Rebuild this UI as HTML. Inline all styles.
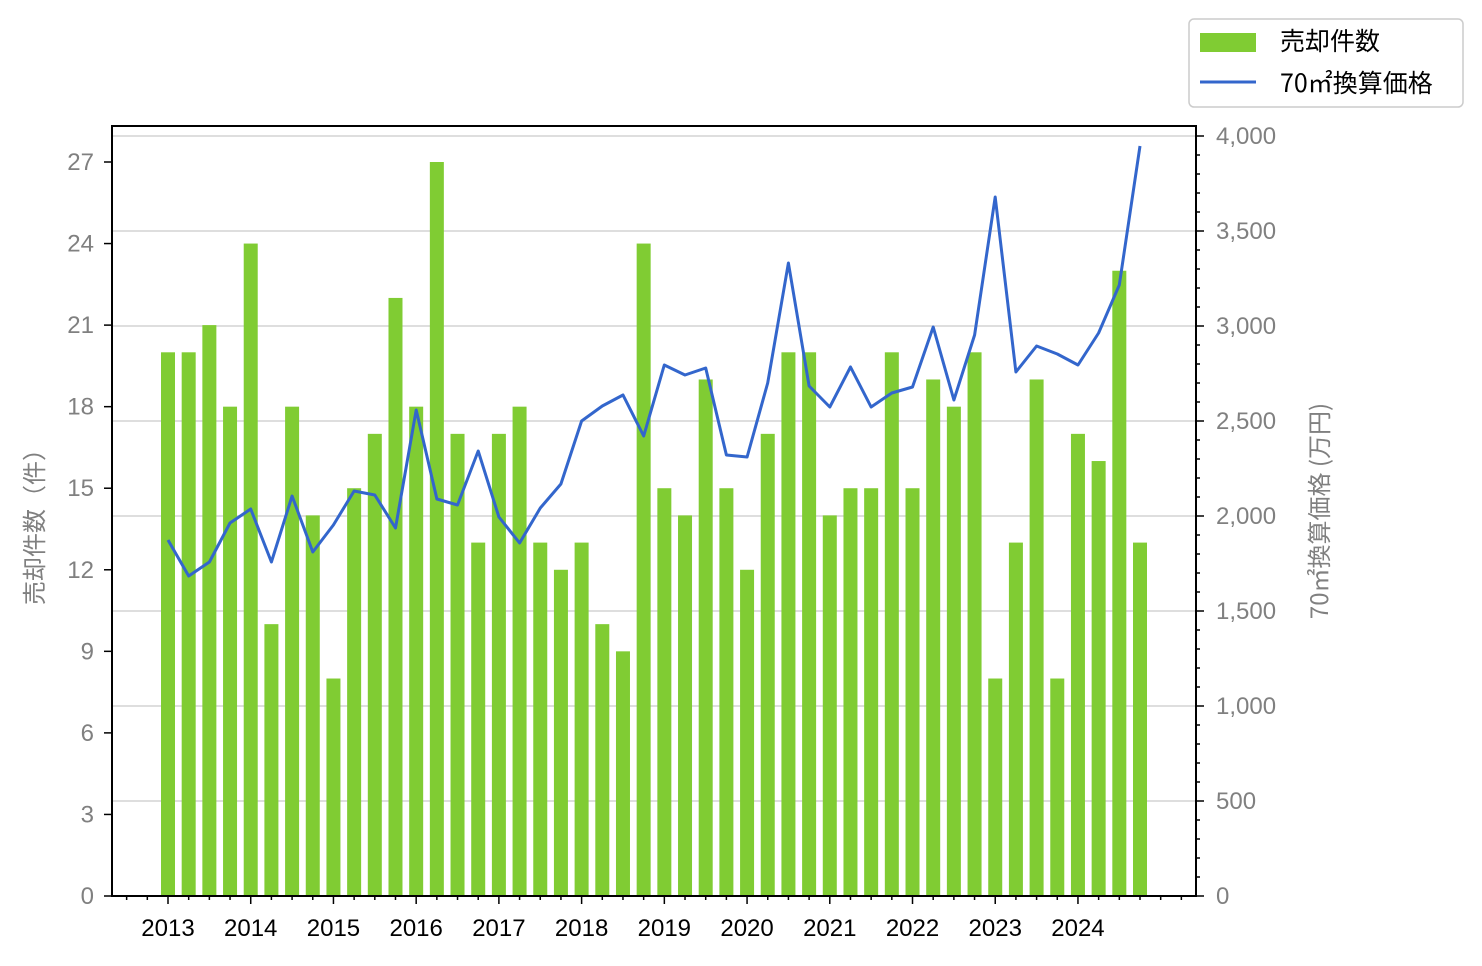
<!DOCTYPE html><html><head><meta charset="utf-8"><style>body{margin:0;background:#fff}</style></head><body>
<svg width="1482" height="961" xmlns="http://www.w3.org/2000/svg" font-family="Liberation Sans, Noto Sans CJK JP, sans-serif">
<rect width="1482" height="961" fill="#fff"/>
<g id="grid" stroke="#d3d3d3" stroke-width="1.5"></g>
<g id="bars" fill="#80cc33"></g>
<polyline id="line" fill="none" stroke="#3366cc" stroke-width="3" stroke-linejoin="round"/>
<rect x="112" y="126" width="1084" height="770" fill="none" stroke="#000" stroke-width="2"/>
<g id="ax" stroke="#000" stroke-width="1.5"></g>
<g id="lt" fill="#808080" font-size="24" text-anchor="end"></g>
<g id="rt" fill="#808080" font-size="24"></g>
<g id="xt" fill="#000" font-size="24" text-anchor="middle"></g>
<text transform="translate(43,521) rotate(-90)" font-size="24" fill="#808080" text-anchor="middle" font-family="Noto Sans CJK JP, sans-serif">売却件数（件）</text>
<text transform="translate(1328,511) rotate(-90)" font-size="24" fill="#808080" text-anchor="middle" font-family="Noto Sans CJK JP, sans-serif">70㎡換算価格 (万円)</text>
<rect x="1189" y="19" width="274" height="88" rx="5" fill="#fff" stroke="#ccc" stroke-width="1.5"/>
<rect x="1200" y="33" width="56" height="19" fill="#80cc33"/>
<text x="1280" y="50" font-size="25" font-family="Noto Sans CJK JP, sans-serif">売却件数</text>
<line x1="1200" y1="82" x2="1256" y2="82" stroke="#3366cc" stroke-width="3"/>
<text x="1280" y="92" font-size="25" font-family="Noto Sans CJK JP, sans-serif">70㎡換算価格</text>
</svg>
<script>
const ns="http://www.w3.org/2000/svg";
function el(p,t,a,txt){const e=document.createElementNS(ns,t);for(const k in a)e.setAttribute(k,a[k]);if(txt!=null)e.textContent=txt;document.getElementById(p).appendChild(e);}
for(let v=500;v<=4000;v+=500){const y=896-v*0.19;el('grid','line',{x1:112,x2:1196,y1:y,y2:y});}
const b=[20,20,21,18,24,10,18,14,8,15,17,22,18,27,17,13,17,18,13,12,13,10,9,24,15,14,19,15,12,17,20,20,14,15,15,20,15,19,18,20,8,13,19,8,17,16,23,13];
const sp=(1140-168)/47,u=(896-162)/27;
b.forEach((v,i)=>{const x=168+i*sp;el('bars','rect',{x:x-7,y:896-v*u,width:14,height:v*u});});
const ly=[540,576,562,523,509,562,496,552,525,491,495,528,410,499,505,451,517,543,508,484,421,406,395,436,365,375,368,455,457,383,263,386,407,367,407,393,387,327,400,335,197,372,346,354,365,333,285,146];
document.getElementById('line').setAttribute('points',ly.map((y,i)=>(168+i*sp).toFixed(1)+','+y).join(' '));
for(let v=0;v<=27;v+=3){const y=896-v*u;el('ax','line',{x1:104,x2:112,y1:y,y2:y});el('lt','text',{x:94,y:y+8},v);}
for(let v=0;v<=4000;v+=100){const y=896-v*0.19;const maj=v%500==0;el('ax','line',{x1:1196,x2:maj?1204:1200,y1:y,y2:y});if(maj)el('rt','text',{x:1216,y:y+8},v.toLocaleString('en-US'));}
for(let i=-2;i<=49;i++){const x=168+i*sp;if(x<113||x>1195)continue;const maj=i%4==0&&i>=0&&i<48;el('ax','line',{x1:x,x2:x,y1:896,y2:maj?904:900});if(maj)el('xt','text',{x:x,y:936},2013+i/4);}
</script>
</body></html>
